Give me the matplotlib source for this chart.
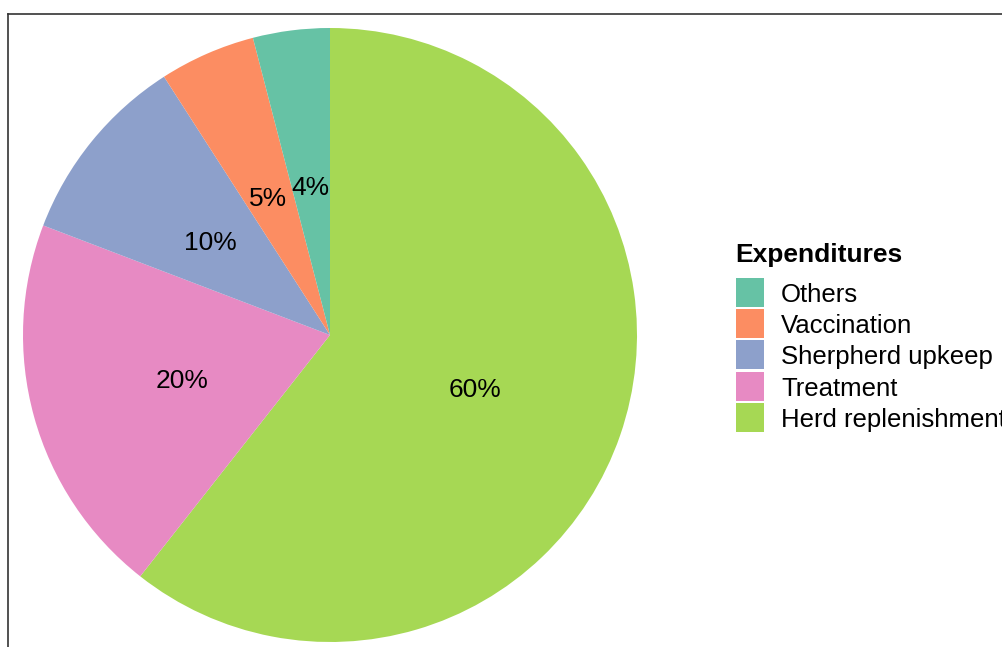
import matplotlib.pyplot as plt
from matplotlib.patches import Rectangle
from matplotlib.lines import Line2D

plt.rcParams['font.family'] = ['Liberation Sans', 'DejaVu Sans']

# legend order (top to bottom) and matching Set2 colours
categories = ['Others', 'Vaccination', 'Sherpherd upkeep', 'Treatment', 'Herd replenishment']
shares = [4, 5, 10, 20, 60]
colors = ['#66C2A5', '#FC8D62', '#8DA0CB', '#E78AC3', '#A6D854']
legend_title = 'Expenditures'

W, H = 1003, 647
fig = plt.figure(figsize=(W / 100, H / 100), dpi=100)

# pie axes: centre (330, 335) px, radius 307 px
cx, cy, r = 330, 335, 307
ax = fig.add_axes([(cx - r) / W, (H - cy - r) / H, 2 * r / W, 2 * r / H])

# slices run clockwise from 12 o'clock, starting with the largest
vals = shares[::-1]
cols = colors[::-1]
wedges, texts, autotexts = ax.pie(
    vals, colors=cols, startangle=90, counterclock=False, radius=1,
    autopct=lambda p: '', pctdistance=0.5,
    wedgeprops=dict(linewidth=0))
for at, v in zip(autotexts, vals):
    x, y = at.get_position()
    at.set_position((x, y - 0.016))
    at.set_text(f'{v}%')
    at.set_fontsize(19)
    at.set_color('black')
ax.set_xlim(-1, 1)
ax.set_ylim(-1, 1)
ax.axis('off')

# legend drawn by hand in pixel coordinates
def fy(y):
    return 1 - y / H

fig.text(735 / W, fy(255), legend_title, fontsize=19, fontweight='bold',
         ha='left', va='center')
key_top = 278
key_h = 31.2
for i, (cat, col) in enumerate(zip(categories, colors)):
    top = key_top + i * key_h
    fig.add_artist(Rectangle((736.5 / W, fy(top + 29)), 28 / W, 29 / H,
                             facecolor=col, edgecolor='none',
                             transform=fig.transFigure))
    fig.text(781 / W, fy(top + 17), cat, fontsize=18.5, ha='left', va='center')

# frame lines along the top and left edge
fig.add_artist(Line2D([8.5 / W, 1], [fy(13.5), fy(13.5)], color='#333333',
                      linewidth=1.2, transform=fig.transFigure))
fig.add_artist(Line2D([8.5 / W, 8.5 / W], [fy(13.5), 0], color='#333333',
                      linewidth=1.2, transform=fig.transFigure))

fig.savefig('out.png', dpi=100)
